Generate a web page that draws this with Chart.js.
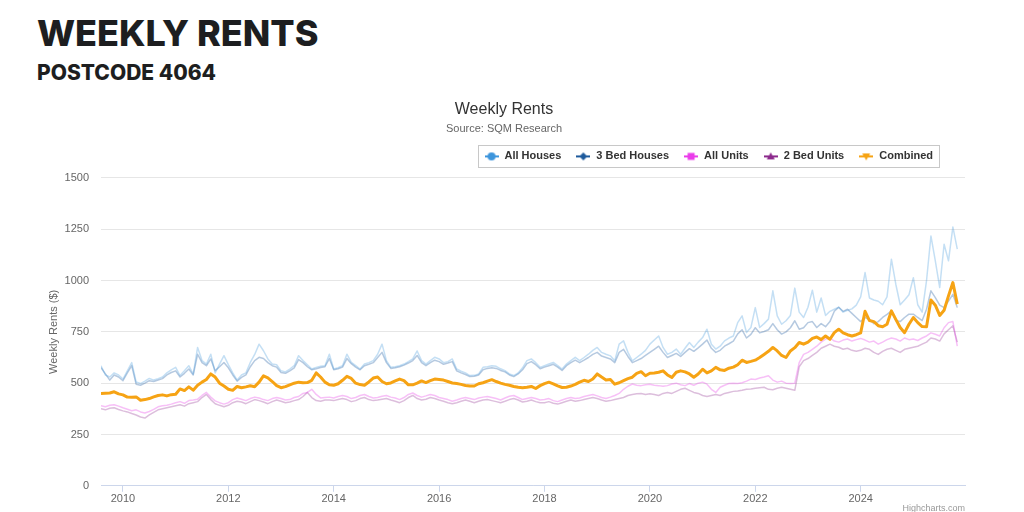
<!DOCTYPE html>
<html>
<head>
<meta charset="utf-8">
<title>Weekly Rents - Postcode 4064</title>
<script src="https://cdn.jsdelivr.net/npm/chart.js@4.4.1/dist/chart.umd.min.js"></script>
<style>
  html, body { margin: 0; padding: 0; background: #fff; }
  body { width: 1024px; height: 512px; position: relative; overflow: hidden; }
  .head { position: absolute; left: 37px; font-family: Inter, 'Open Sans', sans-serif; font-weight: 800; color: #1d1e20; white-space: nowrap; line-height: 1; }
  #h1 { top: 15px; font-size: 36px; }
  #h2 { top: 62px; font-size: 21px; }
  #wrap { position: absolute; left: 0; top: 90px; width: 1024px; height: 422px; }
  #credits { position: absolute; right: 59px; top: 503px; font: 9px 'Liberation Sans', Arial, sans-serif; color: #999; }
</style>
</head>
<body>
<div class="head" id="h1">WEEKLY RENTS</div>
<div class="head" id="h2">POSTCODE 4064</div>
<div id="wrap"><canvas id="chartRents" width="1024" height="422"></canvas></div>
<div id="credits">Highcharts.com</div>
<script>
// one value per month, first one is August 2009, last one November 2025
const startYear = 2009
const startMonth = 8

const allHouses = [
  585, 540, 530, 550, 540,
  520, 560, 600, 506, 498, 510, 523, 515, 522, 530, 550, 565,
  577, 537, 560, 585, 544, 674, 610, 593, 641, 550, 593, 634,
  590, 550, 515, 540, 550, 601, 640, 690, 658, 618, 593, 590,
  560, 555, 569, 585, 634, 610, 590, 569, 577, 582, 585, 641,
  569, 575, 585, 641, 601, 585, 569, 593, 600, 610, 641, 690,
  610, 577, 580, 585, 593, 605, 618, 657, 610, 593, 610, 626,
  618, 600, 605, 618, 569, 558, 550, 537, 538, 545, 577, 580,
  585, 582, 570, 561, 545, 537, 550, 575, 610, 618, 600, 577,
  585, 593, 601, 585, 569, 593, 610, 626, 610, 625, 641, 660,
  674, 650, 641, 633, 609, 690, 706, 650, 609, 625, 641, 660,
  690, 710, 730, 674, 641, 650, 666, 641, 670, 698, 674, 700,
  722, 763, 690, 666, 680, 706, 720, 730, 795, 828, 747, 771,
  868, 771, 790, 812, 950, 828, 787, 804, 830, 963, 846, 820,
  870, 953, 846, 915, 830, 850, 860, 870, 846, 855, 862, 880,
  920, 1039, 915, 905, 899, 882, 920, 1104, 982, 882, 905, 931,
  1014, 882, 846, 1000, 1217, 1096, 966, 1177, 1096, 1261, 1153
]

const bed3Houses = [
  575, 545, 515, 540, 530,
  512, 550, 585, 495, 490, 500, 512, 508, 515, 522, 540, 552,
  560, 530, 548, 569, 540, 641, 600, 585, 618, 561, 580, 601,
  575, 540, 510, 528, 540, 580, 610, 626, 620, 600, 585, 578,
  552, 548, 560, 575, 615, 600, 580, 565, 570, 576, 580, 620,
  565, 570, 578, 620, 595, 578, 565, 585, 592, 600, 625, 650,
  600, 572, 575, 580, 588, 598, 610, 635, 600, 585, 600, 612,
  605, 592, 598, 605, 560, 550, 542, 532, 534, 540, 565, 572,
  575, 572, 562, 555, 540, 532, 545, 565, 595, 605, 590, 570,
  578, 585, 592, 578, 562, 585, 600, 612, 600, 612, 625, 640,
  650, 632, 625, 618, 600, 650, 665, 630, 600, 610, 620, 635,
  650, 665, 680, 650, 625, 635, 645, 630, 650, 668, 655, 672,
  690, 710, 670, 650, 660, 680, 692, 705, 740, 760, 720, 738,
  770, 745, 752, 760, 790, 760, 739, 750, 770, 804, 763, 770,
  795, 800, 771, 790, 775, 800, 850, 870, 850, 860, 840, 820,
  800, 820, 810, 790, 800, 820, 835, 852, 805, 800, 820, 836,
  836, 820, 805, 860, 950, 917, 880, 868, 900, 933, 868
]

const allUnits = [
  390, 385, 392, 395, 388,
  380, 373, 366, 370, 360, 355, 362, 372, 385, 390, 392, 398,
  405, 410, 402, 415, 418, 422, 440, 455, 432, 414, 405, 398,
  405, 420, 428, 422, 415, 425, 432, 428, 420, 415, 425, 430,
  425, 418, 420, 430, 435, 450, 455, 470, 445, 428, 430, 432,
  428, 435, 440, 435, 425, 430, 440, 445, 435, 428, 430, 436,
  440, 432, 428, 420, 430, 445, 452, 440, 432, 438, 445, 440,
  430, 425, 420, 412, 418, 425, 430, 425, 420, 428, 432, 435,
  430, 425, 418, 428, 436, 440, 430, 420, 425, 430, 425, 418,
  420, 425, 415, 410, 418, 425, 430, 425, 428, 435, 440, 445,
  438, 430, 425, 432, 440, 450, 470, 485, 496, 490, 488, 492,
  495, 490, 488, 485, 488, 496, 500, 492, 488, 498, 490, 500,
  505, 495, 470, 455, 480, 490, 498, 500, 498, 502, 510, 520,
  518, 525, 530, 536, 515, 505, 510, 500, 498, 500, 600, 640,
  650, 665, 680, 700, 715, 720, 705, 700, 710, 715, 705, 712,
  718, 710, 700, 705, 690, 700, 712, 720, 715, 705, 720, 712,
  715, 708, 720, 730, 745, 738, 730, 770, 795, 800, 680
]

const bed2Units = [
  375, 370, 378, 380, 372,
  365, 360, 352, 345, 335, 330, 345, 358, 370, 375, 380, 385,
  390, 395, 388, 400, 405, 410, 430, 445, 420, 400, 392, 385,
  392, 405, 412, 408, 400, 410, 420, 415, 408, 400, 410, 418,
  412, 405, 408, 415, 420, 435, 455, 430, 415, 412, 418, 418,
  415, 420, 425, 420, 410, 415, 425, 430, 420, 415, 418, 422,
  425, 418, 412, 405, 415, 430, 440, 425, 418, 422, 430, 425,
  418, 412, 405, 400, 405, 412, 418, 412, 405, 412, 418, 420,
  415, 410, 405, 412, 420, 425, 418, 408, 412, 418, 410, 405,
  405, 410, 402, 398, 405, 412, 418, 412, 415, 420, 425, 430,
  425, 418, 412, 415, 420, 425, 430, 440, 445, 448, 450, 445,
  448, 445, 440, 450, 455, 450, 460, 470, 475, 465, 455, 450,
  440, 435, 440, 445, 440, 450, 455, 460, 462, 465, 470, 472,
  475, 478, 480, 470, 468, 475, 480, 475, 470, 465, 580, 610,
  620, 635, 650, 670, 680, 690, 680, 675, 665, 670, 660, 655,
  660, 670, 665, 650, 640, 655, 665, 670, 660, 650, 665, 670,
  675, 680, 690, 700, 720, 715, 705, 740, 760, 780, 700
]

const combined = [
  450, 451, 452, 458, 448,
  443, 432, 431, 433, 417, 420, 425, 433, 440, 443, 438, 444,
  446, 472, 464, 482, 466, 490, 505, 518, 545, 530, 500, 486,
  470, 465, 484, 478, 482, 487, 483, 505, 536, 526, 508, 488,
  478, 483, 492, 500, 505, 502, 503, 514, 550, 530, 505, 492,
  490, 497, 514, 533, 523, 500, 493, 490, 506, 525, 530, 508,
  497, 501, 511, 520, 512, 492, 492, 500, 511, 503, 512, 520,
  518, 515, 508, 501, 498, 494, 489, 486, 486, 497, 502, 510,
  517, 508, 500, 494, 490, 484, 480, 478, 480, 484, 474, 488,
  498, 505, 497, 487, 479, 480, 486, 494, 505, 514, 508, 520,
  545, 530, 516, 518, 495, 502, 512, 522, 529, 548, 556, 536,
  548, 550, 553, 560, 540, 528, 553, 560, 555, 545, 529, 545,
  568, 550, 560, 577, 565, 562, 573, 578, 590, 612, 601, 606,
  612, 625, 640, 655, 674, 657, 635, 625, 657, 673, 698, 690,
  700, 718, 725, 712, 730, 714, 746, 763, 745, 736, 730, 736,
  745, 850, 805, 800, 780, 775, 787, 852, 811, 771, 746, 787,
  820, 795, 776, 775, 905, 880, 830, 855, 925, 990, 885
]

const yearTicks = [2010, 2012, 2014, 2016, 2018, 2020, 2022, 2024]
const rentTicks = [0, 250, 500, 750, 1000, 1250, 1500]

const months = combined.map((v, i) => startYear + (startMonth - 1 + i) / 12)
const serie = (values) => values.map((v, i) => ({ x: months[i], y: v }))

const fuente = "'Liberation Sans', Arial, Helvetica, sans-serif"

// small line + marker, like the highcharts legend symbols
const simbolo = (color, forma) => {
    const c = document.createElement('canvas')
    c.width = 14
    c.height = 10
    const g = c.getContext('2d')
    g.strokeStyle = color
    g.fillStyle = color
    g.lineWidth = 2
    g.beginPath()
    g.moveTo(0, 5)
    g.lineTo(14, 5)
    g.stroke()
    const cx = 7, cy = 5, r = 4
    g.beginPath()
    if (forma === 'circle') {
        g.arc(cx, cy, r, 0, Math.PI * 2)
    } else if (forma === 'diamond') {
        g.moveTo(cx, cy - r); g.lineTo(cx + r, cy); g.lineTo(cx, cy + r); g.lineTo(cx - r, cy)
    } else if (forma === 'square') {
        g.rect(cx - 3.5, cy - 3.5, 7, 7)
    } else if (forma === 'triangle') {
        g.moveTo(cx, cy - r); g.lineTo(cx + r, cy + 3); g.lineTo(cx - r, cy + 3)
    } else {
        g.moveTo(cx - r, cy - 3); g.lineTo(cx + r, cy - 3); g.lineTo(cx, cy + r)
    }
    g.closePath()
    g.fill()
    return c
}

const simbolos = [
    simbolo('#3d95dc', 'circle'),
    simbolo('#1e5a9c', 'diamond'),
    simbolo('#ea3cea', 'square'),
    simbolo('#8c2a8c', 'triangle'),
    simbolo('#f6a314', 'triangle-down')
]

// puts the legend where highcharts has it and draws its frame
const cajaLeyenda = {
    id: 'cajaLeyenda',
    afterLayout(chart) {
        chart.legend.right = 947.5
        chart.legend.top -= 6
    },
    afterDraw(chart) {
        const lg = chart.legend
        const pad = lg.options.labels.padding
        const left = lg.right - lg.lineWidths[0] - 6
        const right = lg.right - pad + 6
        const cy = lg.top + pad + 5.5
        const ctx = chart.ctx
        ctx.save()
        ctx.strokeStyle = '#c8c8c8'
        ctx.lineWidth = 1
        ctx.strokeRect(Math.round(left) + 0.5, Math.round(cy - 11) + 0.5, Math.round(right - left), 22)
        ctx.restore()
    }
}

const canvas = document.getElementById('chartRents')
const context = canvas.getContext('2d')

const chartRents = new Chart(context, {
    type: 'line',
    data: {
        datasets: [
            { label: 'All Houses', data: serie(allHouses), borderColor: 'rgba(60,150,220,0.3)', borderWidth: 1.5, order: 1 },
            { label: '3 Bed Houses', data: serie(bed3Houses), borderColor: 'rgba(30,90,160,0.33)', borderWidth: 1.5, order: 1 },
            { label: 'All Units', data: serie(allUnits), borderColor: 'rgba(230,60,230,0.32)', borderWidth: 1.5, order: 1 },
            { label: '2 Bed Units', data: serie(bed2Units), borderColor: 'rgba(140,40,140,0.3)', borderWidth: 1.5, order: 1 },
            { label: 'Combined', data: serie(combined), borderColor: '#f6a314', borderWidth: 3, order: 0 }
        ]
    },
    options: {
        responsive: false,
        animation: false,
        events: [],
        layout: { padding: { left: 43, right: 59, top: 0, bottom: 5 } },
        elements: {
            point: { radius: 0 },
            line: { tension: 0, borderJoinStyle: 'round' }
        },
        plugins: {
            title: {
                display: true,
                text: 'Weekly Rents',
                color: '#333',
                font: { family: fuente, size: 16, weight: 'normal' },
                padding: { top: 10, bottom: 3 }
            },
            subtitle: {
                display: true,
                text: 'Source: SQM Research',
                color: '#666',
                font: { family: fuente, size: 11 },
                padding: { top: 0, bottom: 7 }
            },
            legend: {
                position: 'top',
                align: 'end',
                labels: {
                    usePointStyle: true,
                    pointStyleWidth: 15,
                    boxHeight: 11,
                    padding: 14.5,
                    color: '#333',
                    font: { family: fuente, size: 11, weight: 'bold' },
                    sort: (a, b) => a.datasetIndex - b.datasetIndex,
                    generateLabels: (chart) => {
                        const items = Chart.defaults.plugins.legend.labels.generateLabels(chart)
                        items.forEach(it => { it.pointStyle = simbolos[it.datasetIndex] })
                        return items
                    }
                }
            },
            tooltip: { enabled: false }
        },
        scales: {
            x: {
                type: 'linear',
                min: months[0],
                max: 2025.98,
                afterBuildTicks: (s) => { s.ticks = yearTicks.map(v => ({ value: v })) },
                grid: { drawOnChartArea: false, tickLength: 6, color: '#ccd6eb' },
                border: { color: '#ccd6eb' },
                ticks: { color: '#666', font: { family: fuente, size: 11 }, padding: 1, maxRotation: 0, autoSkip: false, callback: (v) => String(v) }
            },
            y: {
                min: 0,
                max: 1500,
                afterBuildTicks: (s) => { s.ticks = rentTicks.map(v => ({ value: v })) },
                afterFit: (s) => { s.width = 58 },
                grid: { color: '#e6e6e6', drawTicks: false },
                border: { display: false },
                ticks: { color: '#666', font: { family: fuente, size: 11 }, padding: 12, callback: (v) => String(v) },
                title: { display: true, text: 'Weekly Rents ($)', color: '#666', font: { family: fuente, size: 11 }, padding: { top: 4, bottom: 8 } }
            }
        }
    },
    plugins: [cajaLeyenda]
})
</script>
</body>
</html>
